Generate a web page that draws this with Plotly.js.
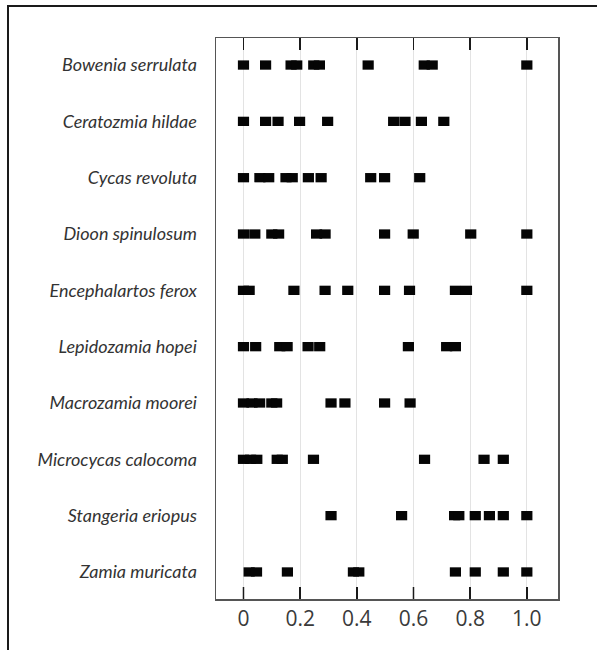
<!DOCTYPE html>
<html>
<head>
<meta charset="utf-8">
<script src="https://cdn.plot.ly/plotly-3.0.1.min.js"></script>
<style>
  html, body { margin: 0; padding: 0; background: #fff; }
  #wrap { position: relative; width: 597px; height: 650px; overflow: hidden; }
  #chart { position: absolute; left: 0; top: 0; width: 597px; height: 650px; }
  #frame { position: absolute; left: 7px; top: 5px; width: 700px; height: 800px;
           border-left: 2px solid #1a1a1a; border-top: 2px solid #1a1a1a; pointer-events: none; }
</style>
</head>
<body>
<div id="wrap">
  <div id="chart"></div>
  <div id="frame"></div>
</div>
<script>
const species = [
  "Bowenia serrulata", "Ceratozmia hildae", "Cycas revoluta", "Dioon spinulosum",
  "Encephalartos ferox", "Lepidozamia hopei", "Macrozamia moorei",
  "Microcycas calocoma", "Stangeria eriopus", "Zamia muricata"
];

const bowenia       = [0.0, 0.078, 0.168, 0.188, 0.248, 0.268, 0.44, 0.638, 0.666, 1.0];
const ceratozmia    = [0.0, 0.078, 0.122, 0.198, 0.297, 0.53, 0.57, 0.628, 0.707];
const cycas         = [0.0, 0.058, 0.089, 0.15, 0.172, 0.229, 0.274, 0.449, 0.498, 0.622];
const dioon         = [0.0, 0.04, 0.10, 0.124, 0.258, 0.288, 0.498, 0.599, 0.802, 1.0];
const encephalartos = [0.0, 0.02, 0.178, 0.288, 0.368, 0.498, 0.586, 0.748, 0.787, 1.0];
const lepidozamia   = [0.0, 0.043, 0.128, 0.154, 0.228, 0.269, 0.582, 0.717, 0.748];
const macrozamia    = [0.0, 0.03, 0.057, 0.10, 0.117, 0.309, 0.358, 0.498, 0.588];
const microcycas    = [0.0, 0.025, 0.047, 0.119, 0.137, 0.247, 0.639, 0.849, 0.917];
const stangeria     = [0.309, 0.558, 0.745, 0.76, 0.818, 0.868, 0.917, 1.0];
const zamia         = [0.02, 0.046, 0.155, 0.388, 0.407, 0.748, 0.818, 0.917, 1.0];

const xTickVals  = [0, 0.2, 0.4, 0.6, 0.8, 1.0];
const xTickText  = ["0", "0.2", "0.4", "0.6", "0.8", "1.0"];

const rows = [bowenia, ceratozmia, cycas, dioon, encephalartos,
              lepidozamia, macrozamia, microcycas, stangeria, zamia];

const markW = 0.0395;
const ys = [], bases = [], lens = [];
rows.forEach((vals, i) => {
  vals.forEach(v => {
    ys.push(species[i]);
    bases.push(v - markW / 2);
    lens.push(markW);
  });
});

const trace = {
  type: 'bar',
  orientation: 'h',
  y: ys,
  x: lens,
  base: bases,
  width: 0.165,
  marker: { color: '#050505', line: { width: 0 } },
  hoverinfo: 'none',
  showlegend: false
};

const plotH = 650 - 38 - 51;

// inside tick marks along the bottom edge, at the axis tick values
const tickShapes = xTickVals.map(v => ({
  type: 'line', xref: 'x', yref: 'paper', layer: 'above',
  x0: v, x1: v, y0: 0, y1: 12 / plotH,
  line: { color: '#1a1a1a', width: 1.5 }
}));

const layout = {
  width: 597,
  height: 650,
  margin: { l: 216, r: 39, t: 38, b: 51, pad: 0 },
  paper_bgcolor: '#ffffff',
  plot_bgcolor: '#ffffff',
  barmode: 'overlay',
  showlegend: false,
  shapes: tickShapes,
  xaxis: {
    range: [-0.097, 1.11],
    tickmode: 'array',
    tickvals: xTickVals,
    ticktext: xTickText,
    ticks: 'inside',
    ticklen: 12,
    tickwidth: 1.5,
    tickcolor: '#1a1a1a',
    showline: true,
    linecolor: '#555',
    linewidth: 1.5,
    mirror: 'ticks',
    showgrid: true,
    gridcolor: '#e3e3e3',
    gridwidth: 1,
    zeroline: false,
    tickfont: { family: '"Open Sans", sans-serif', size: 21, color: '#3a3a3a' }
  },
  yaxis: {
    type: 'category',
    categoryorder: 'array',
    categoryarray: species,
    range: [9.48, -0.48],
    ticks: 'outside',
    ticklen: 14,
    tickcolor: 'rgba(0,0,0,0)',
    showline: true,
    linecolor: '#555',
    linewidth: 1.5,
    mirror: true,
    showgrid: false,
    zeroline: false,
    tickfont: { family: 'Lato, "Open Sans", sans-serif', size: 18, color: '#333', style: 'italic' }
  }
};

Plotly.newPlot('chart', [trace], layout, { staticPlot: true, displayModeBar: false });
</script>
</body>
</html>
